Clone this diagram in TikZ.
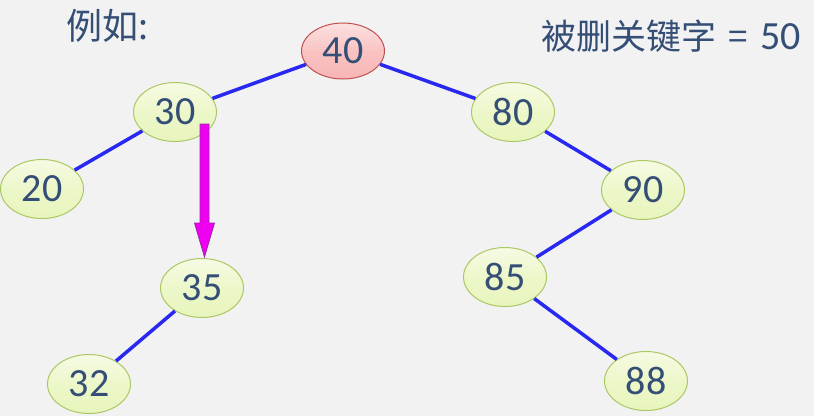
\documentclass[tikz,border=0pt]{standalone}
\usepackage{fontspec}
\setmainfont{Carlito}
\newfontfamily\cjk{Noto Sans CJK SC}
\usetikzlibrary{shapes.geometric,calc}
\definecolor{bg}{RGB}{242,242,242}
\definecolor{txt}{RGB}{52,78,118}
\definecolor{gfill}{RGB}{232,245,188}
\definecolor{gdraw}{RGB}{170,200,100}
\definecolor{rfill}{RGB}{248,180,180}
\definecolor{rdraw}{RGB}{190,80,80}
\definecolor{edge}{RGB}{40,40,240}
\definecolor{mag}{RGB}{240,0,240}
\definecolor{magd}{RGB}{150,40,170}
\tikzset{
  keynode/.style={ellipse, draw=gdraw, line width=1pt, inner sep=0pt,
    minimum width=83pt, minimum height=59pt, text=txt,
    font=\fontsize{40}{40}\selectfont,
    top color=gfill!40!white, bottom color=gfill, middle color=gfill!80!white},
  rootnode/.style={keynode, draw=rdraw, minimum height=56pt, top color=rfill!40!white, bottom color=rfill, middle color=rfill!80!white},
  treeedge/.style={draw=edge, line width=3.5pt},
  label/.style={text=txt, inner sep=0pt},
  bigarrow/.style={fill=mag, draw=magd, line width=0.8pt, line join=miter}
}
\begin{document}
\begin{tikzpicture}[x=1pt,y=-1pt]
\fill[bg] (0,0) rectangle (814,416);
\useasboundingbox (0,0) rectangle (814,416);
\node[rootnode] (n40) at (343,51) {40};
\node[keynode] (n30) at (175,112) {30};
\node[keynode] (n80) at (513,112) {80};
\node[keynode] (n20) at (42,189) {20};
\node[keynode] (n90) at (643,190) {90};
\node[keynode] (n35) at (202,288) {35};
\node[keynode] (n85) at (505,277) {85};
\node[keynode] (n32) at (89,384) {32};
\node[keynode] (n88) at (646,381) {88};
\draw[treeedge] (n40) -- (n30);
\draw[treeedge] (n40) -- (n80);
\draw[treeedge] (n30) -- (n20);
\draw[treeedge] (n80) -- (n90);
\draw[treeedge] (n90) -- (n85);
\draw[treeedge] (n85) -- (n88);
\draw[treeedge] (n35) -- (n32);
\coordinate (as) at (204.5,124);
\coordinate (ae) at (204.5,257);
\draw[bigarrow] ($(as)+(-4.5,0)$) -- ($(ae)+(-4.5,-34)$) -- ($(ae)+(-10,-34)$) -- (ae)
  -- ($(ae)+(10,-34)$) -- ($(ae)+(4.5,-34)$) -- ($(as)+(4.5,0)$) -- cycle;
\node[label, anchor=west, font=\cjk\fontsize{36}{36}\selectfont] (lab1) at (66,26) {例如:};
\node[label, anchor=east, font=\cjk\fontsize{35}{35}\selectfont] (lab2) at (801,36) {被删关键字\hspace{12pt}=\hspace{12pt}{\fontspec{Carlito}\fontsize{40}{40}\selectfont 50}};
\end{tikzpicture}
\end{document}
